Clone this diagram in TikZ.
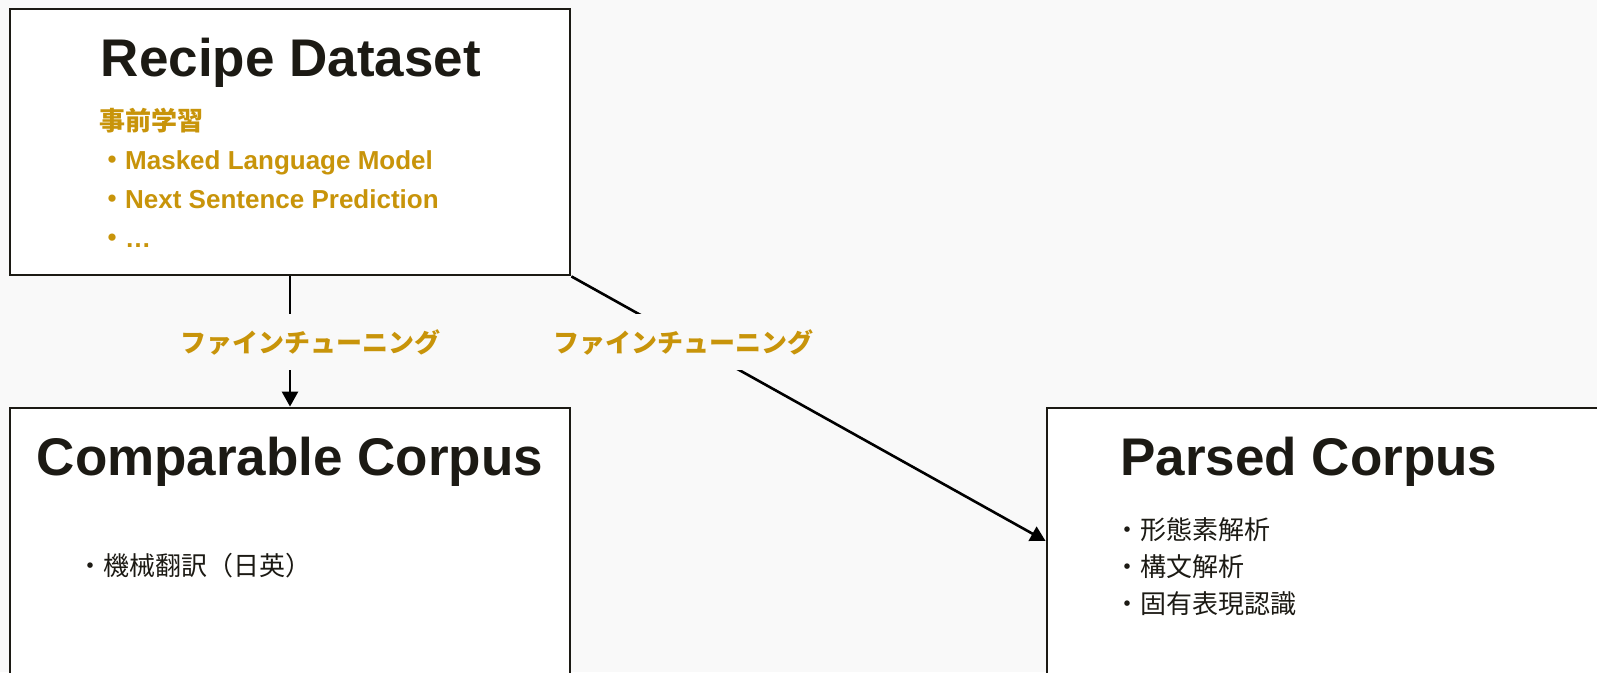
\documentclass[tikz,border=0pt]{standalone}
\usepackage{fontspec}
\setmainfont{Liberation Sans}
\newfontfamily\jpfont{Noto Sans CJK JP}
\usetikzlibrary{arrows.meta}
\definecolor{bg}{HTML}{F9F9F9}
\definecolor{gold}{HTML}{C8940A}
\definecolor{ink}{HTML}{1C1A14}
\begin{document}
\begin{tikzpicture}[x=1pt,y=-1pt,
  box/.style={draw=ink, line width=2.8pt, fill=white, minimum width=560pt, minimum height=266pt, inner sep=0pt},
  title/.style={text=ink, font=\bfseries\fontsize{53}{60}\selectfont, inner sep=0pt, anchor=base},
  gitem/.style={text=gold, font=\bfseries\fontsize{26}{30}\selectfont, inner sep=0pt, anchor=base west},
  bitem/.style={text=ink, font=\jpfont\fontsize{26}{30}\selectfont, inner sep=0pt, anchor=base west},
  lbl/.style={text=gold, font=\jpfont\bfseries\fontsize{26}{30}\selectfont, fill=bg, inner xsep=2pt, inner ysep=15pt},
  conn/.style={draw=black, line width=2.6pt, -{Triangle[length=15pt,width=16pt]}}
]
\path[fill=bg] (0,0) rectangle (1597,672);
\useasboundingbox (0,0) rectangle (1597,672);
\clip (0,0) rectangle (1597,672);

\node[box] (recipe) at (290,142) {};
\node[box] (comp) at (290,541) {};
\node[box] (parsed) at (1327,541) {};

\node[title] (t1) at (291,76) {Recipe Dataset};
\node[title] (t2) at (290,475) {Comparable Corpus};
\node[title] (t3) at (1309,475) {Parsed Corpus};

\node[gitem] (g0) at (99,130) {\jpfont 事前学習};
\node[gitem] (g1) at (99,169) {{\jpfont ・}Masked Language Model};
\node[gitem] (g2) at (99,208) {{\jpfont ・}Next Sentence Prediction};
\node[gitem] (g3) at (99,247) {{\jpfont ・}…};

\node[bitem] (c1) at (77,575) {・機械翻訳（日英）};
\node[bitem] (p1) at (1114,539) {・形態素解析};
\node[bitem] (p2) at (1114,576) {・構文解析};
\node[bitem] (p3) at (1114,613) {・固有表現認識};

\draw[conn] (recipe.south) -- (comp.north);
\draw[conn] (recipe.south east) -- (parsed.west);

\node[lbl] (l1) at (310,342) {ファインチューニング};
\node[lbl] (l2) at (683,342) {ファインチューニング};
\end{tikzpicture}
\end{document}
